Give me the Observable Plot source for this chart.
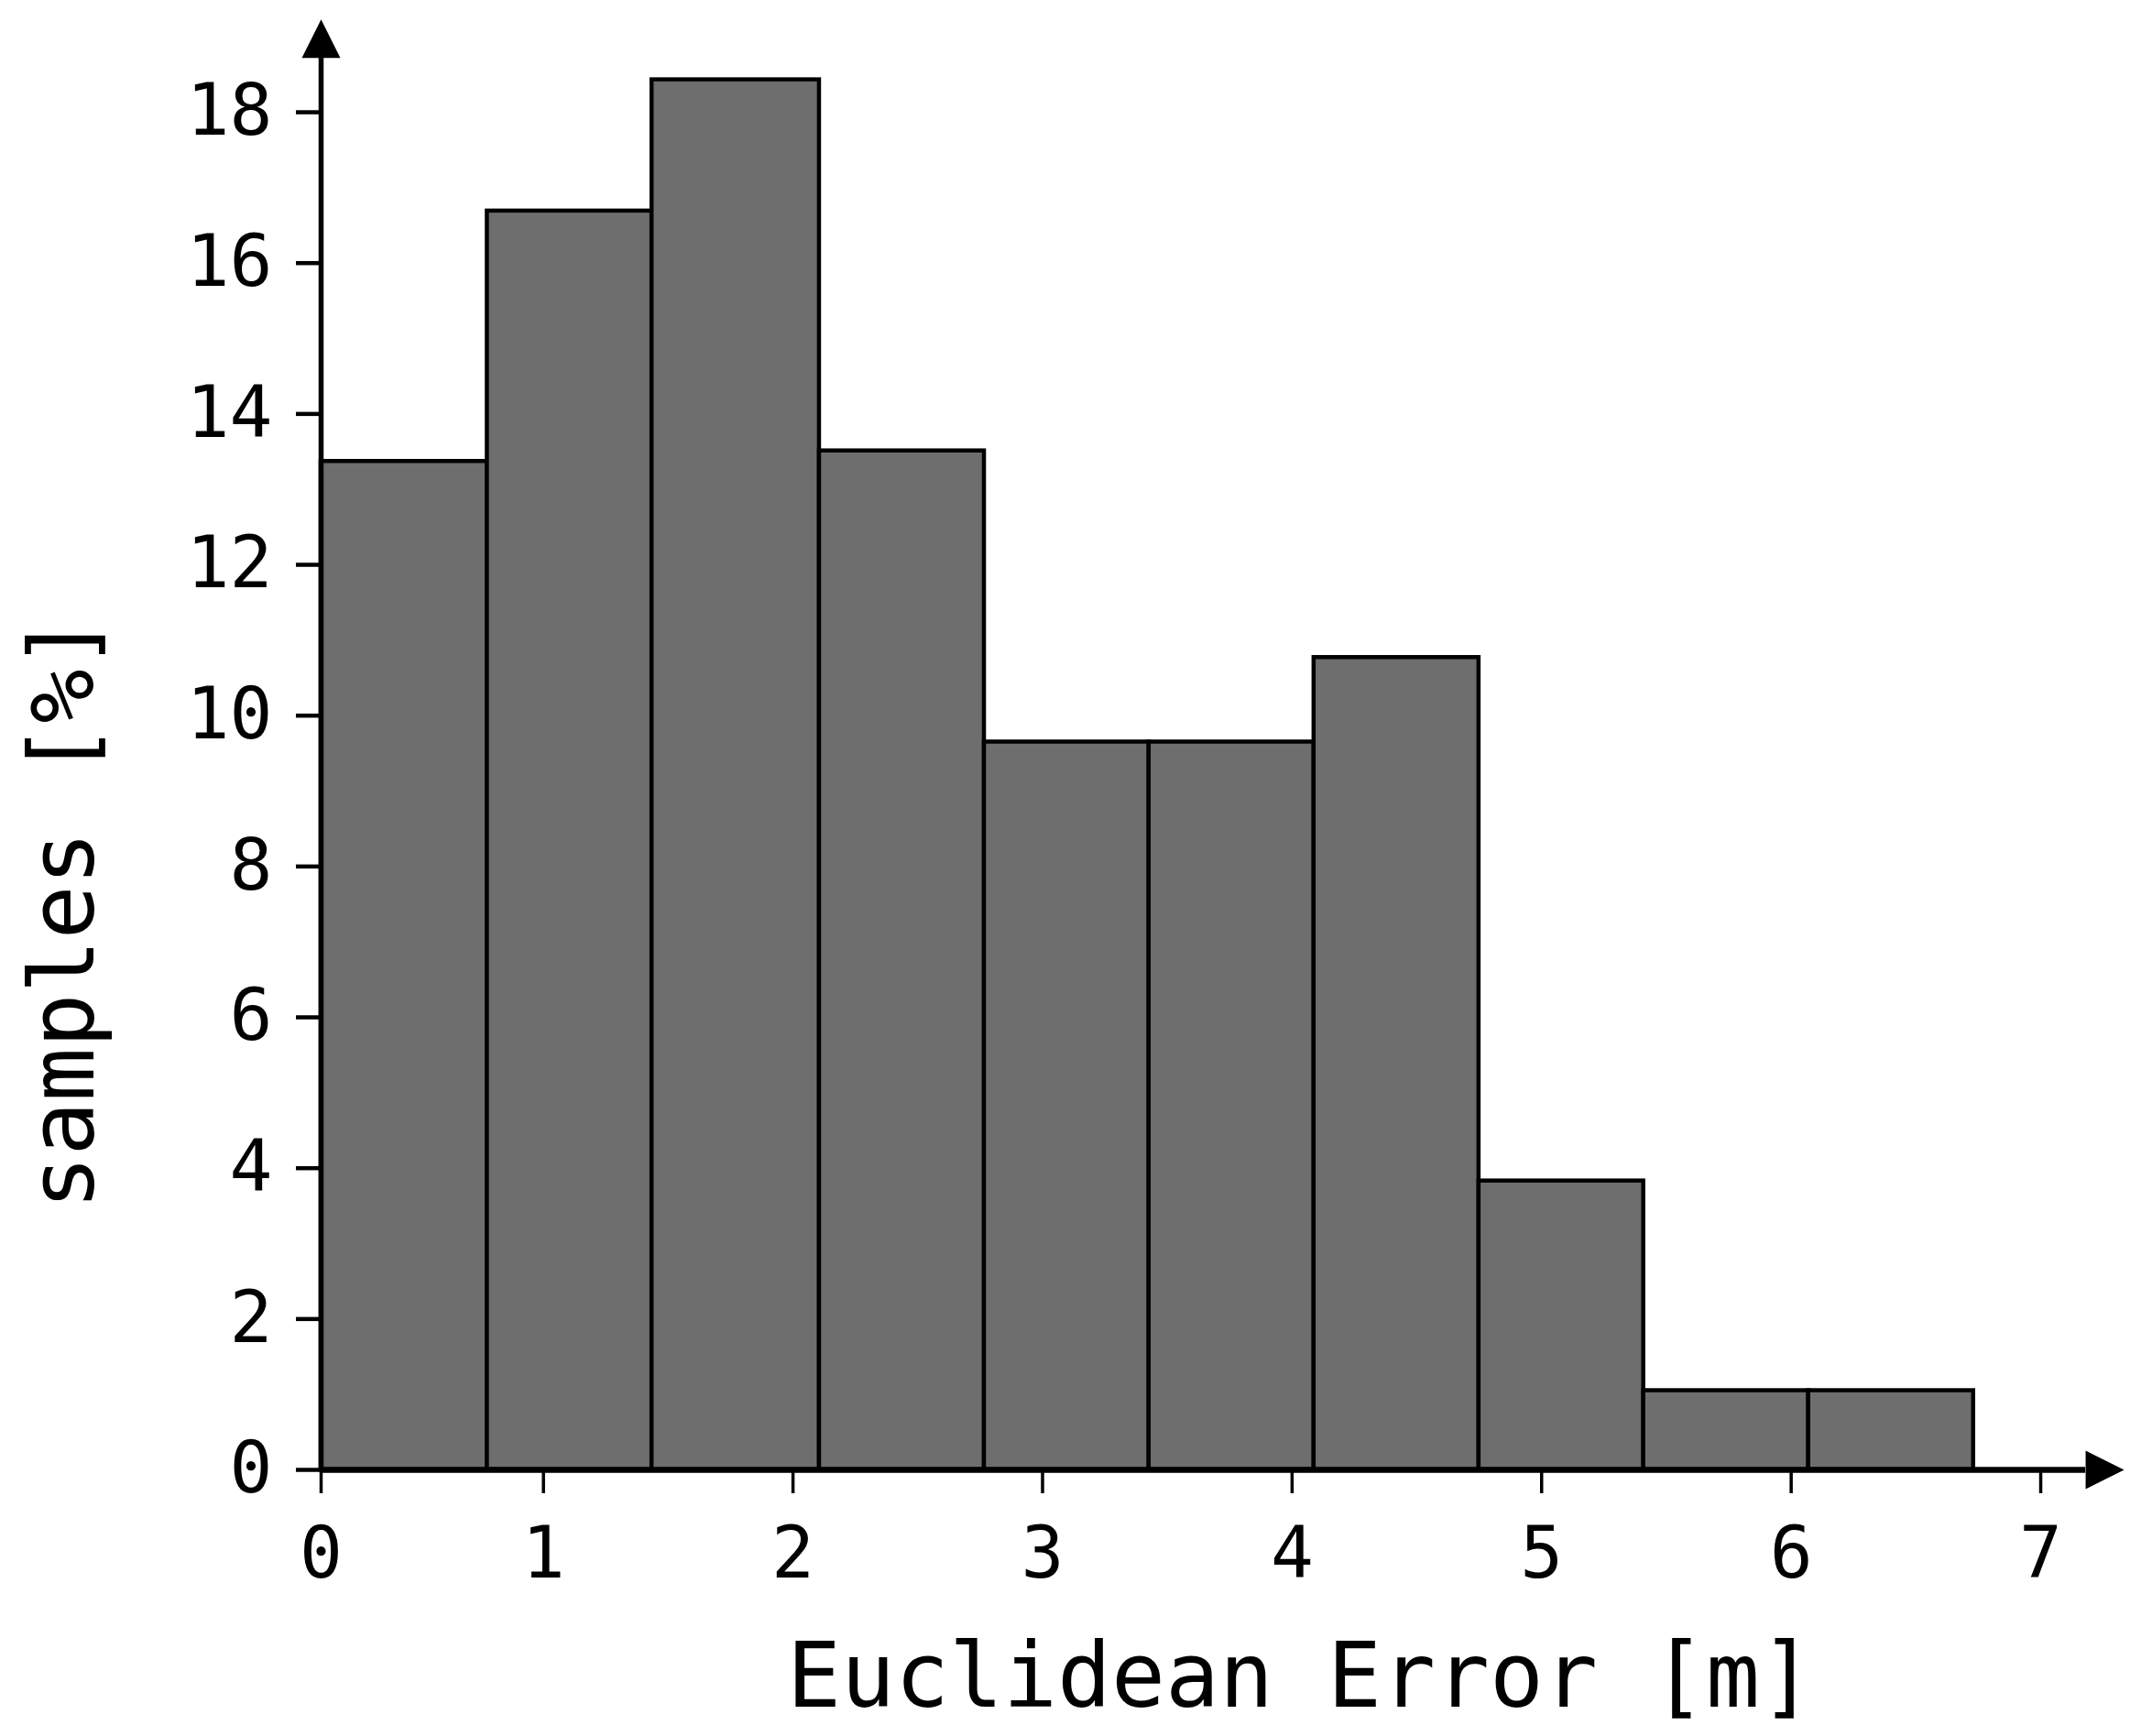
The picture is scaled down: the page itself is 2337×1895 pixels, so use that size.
<!DOCTYPE html>
<html>
<head>
<meta charset="utf-8">
<script src="https://cdn.jsdelivr.net/npm/d3@7"></script>
<script src="https://cdn.jsdelivr.net/npm/@observablehq/plot@0.6"></script>
<style>
  html, body { margin: 0; padding: 0; background: #ffffff; }
  #chart svg { display: block; }
</style>
</head>
<body>
<div id="chart"></div>
<script>
// ---- data ----
const binEdges   = [0.109, 0.775, 1.435, 2.106, 2.767, 3.427, 4.088, 4.749, 5.409, 6.070, 6.731];
const samplesPct = [13.37, 16.69, 18.43, 13.51, 9.65, 9.65, 10.77, 3.83, 1.05, 1.05];
const xTickValues = [0.109, 1, 2, 3, 4, 5, 6, 7];
const xTickLabels = ["0", "1", "2", "3", "4", "5", "6", "7"];
const yTickValues = [0, 2, 4, 6, 8, 10, 12, 14, 16, 18];
const xTitle = "Euclidean Error [m]";
const yTitle = "samples [%]";
// axis extents (arrow bases) in data units
const xAxisStart = 0.109;
const xArrowBase = 7.18;
const yArrowBase = 18.72;
const xDomainMax = 7.4;
const yDomainMax = 19.3;

const bins = samplesPct.map((v, i) => ({x1: binEdges[i], x2: binEdges[i + 1], y: v}));

// filled arrowheads (base centre at the anchor point)
const arrowUp = {
  draw(ctx, size) {
    const r = Math.sqrt(size / Math.PI);
    ctx.moveTo(0, -2 * r); ctx.lineTo(r, 0); ctx.lineTo(-r, 0); ctx.closePath();
  }
};
const arrowRight = {
  draw(ctx, size) {
    const r = Math.sqrt(size / Math.PI);
    ctx.moveTo(2 * r, 0); ctx.lineTo(0, r); ctx.lineTo(0, -r); ctx.closePath();
  }
};

const font = "'DejaVu Sans Mono', 'Liberation Mono', monospace";

const chart = Plot.plot({
  width: 2337,
  height: 1895,
  marginLeft: 350,
  marginRight: 1,
  marginTop: 15,
  marginBottom: 291,
  x: {domain: [xAxisStart, xDomainMax]},
  y: {domain: [0, yDomainMax]},
  style: {fontFamily: font, fontSize: "78px", color: "#000", background: "#fff"},
  marks: [
    Plot.rect(bins, {x1: "x1", x2: "x2", y1: 0, y2: "y", fill: "#6e6e6e", stroke: "#000", strokeWidth: 4.5}),
    Plot.axisY({
      ticks: yTickValues, tickSize: 27, tickPadding: 26, strokeWidth: 4.5,
      tickFormat: d => String(d), label: null, fontSize: 78
    }),
    Plot.axisX({
      ticks: xTickValues, tickSize: 26, tickPadding: 36, strokeWidth: 3.5,
      tickFormat: d => xTickLabels[xTickValues.indexOf(d)], label: null, fontSize: 78
    }),
    Plot.ruleX([xAxisStart], {y1: 0, y2: yArrowBase, stroke: "#000", strokeWidth: 5.5}),
    Plot.ruleY([0], {x1: xAxisStart, x2: xArrowBase, stroke: "#000", strokeWidth: 6.5}),
    Plot.dot([{x: xAxisStart, y: yArrowBase}], {x: "x", y: "y", symbol: arrowUp, r: 21, fill: "#000", stroke: "none"}),
    Plot.dot([{x: xArrowBase, y: 0}], {x: "x", y: "y", symbol: arrowRight, r: 21, fill: "#000", stroke: "none"}),
    Plot.text([xTitle], {
      text: d => d, frameAnchor: "bottom", textAnchor: "middle", lineAnchor: "bottom",
      dx: 76, dy: 258, fontSize: 98, fill: "#000"
    }),
    Plot.text([yTitle], {
      text: d => d, frameAnchor: "left", textAnchor: "middle", lineAnchor: "bottom",
      rotate: -90, dx: -249, dy: 186, fontSize: 98, fill: "#000"
    })
  ]
});
document.getElementById("chart").appendChild(chart);
</script>
</body>
</html>
